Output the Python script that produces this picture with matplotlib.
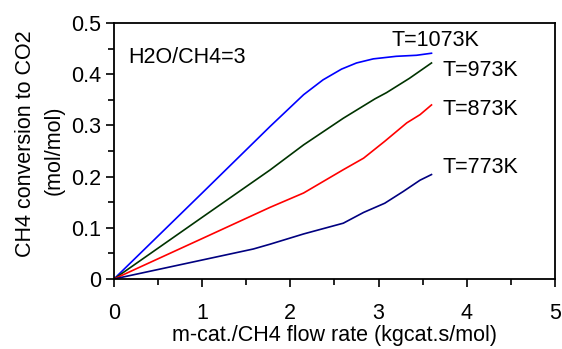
import matplotlib
matplotlib.use('Agg')
from matplotlib import pyplot as plt
from matplotlib.ticker import MultipleLocator

plt.rcParams['font.family'] = ['Liberation Sans', 'DejaVu Sans']

# m-cat./CH4 flow rate (kgcat.s/mol) vs CH4 conversion to CO2 (mol/mol)
x_1073 = [0.0, 1.0, 1.77, 2.15, 2.37, 2.58, 2.75, 2.94, 3.2, 3.43, 3.6]
y_1073 = [0.0, 0.168, 0.298, 0.36, 0.389, 0.41, 0.422, 0.43, 0.435, 0.437, 0.441]

x_973 = [0.0, 1.0, 1.77, 2.15, 2.6, 2.96, 3.09, 3.35, 3.6]
y_973 = [0.0, 0.1205, 0.213, 0.262, 0.314, 0.352, 0.364, 0.392, 0.422]

x_873 = [0.0, 1.0, 1.77, 2.15, 2.6, 2.83, 3.07, 3.32, 3.47, 3.6]
y_873 = [0.0, 0.079, 0.14, 0.168, 0.2135, 0.236, 0.269, 0.305, 0.321, 0.34]

x_773 = [0.0, 1.58, 1.77, 2.15, 2.6, 2.83, 3.07, 3.28, 3.47, 3.6]
y_773 = [0.0, 0.0586, 0.068, 0.088, 0.109, 0.13, 0.148, 0.171, 0.193, 0.204]

series = [
    (x_1073, y_1073, '#0000ff', 'T=1073K', (3.15, 0.465)),
    (x_973, y_973, '#003300', 'T=973K', (3.73, 0.408)),
    (x_873, y_873, '#ff0000', 'T=873K', (3.73, 0.332)),
    (x_773, y_773, '#000080', 'T=773K', (3.73, 0.218)),
]

fs = 15.5

fig = plt.figure(figsize=(5.62, 3.49), dpi=100)
ax = fig.add_axes([0.2028, 0.2006, 0.7847, 0.7334])

for xs, ys, c, label, pos in series:
    ax.plot(xs, ys, color=c, linewidth=1.2)
    ax.text(pos[0], pos[1], label, fontsize=fs, va='center', ha='left')

ax.text(0.16, 0.433, 'H2O/CH4=3', fontsize=fs, va='center', ha='left')

ax.set_xlim(0, 5)
ax.set_ylim(0, 0.5)
ax.xaxis.set_major_locator(MultipleLocator(1))
ax.xaxis.set_minor_locator(MultipleLocator(0.5))
ax.yaxis.set_minor_locator(MultipleLocator(0.05))
ax.set_yticks([0, 0.1, 0.2, 0.3, 0.4, 0.5])
ax.set_yticklabels(['0', '0.1', '0.2', '0.3', '0.4', '0.5'])
ax.tick_params(which='major', direction='out', length=6, width=1.2,
               labelsize=fs, pad=3)
ax.tick_params(which='minor', direction='out', length=4, width=1.2)
ax.tick_params(axis='x', which='major', pad=11)
for sp in ax.spines.values():
    sp.set_linewidth(1.3)

ax.set_xlabel('m-cat./CH4 flow rate (kgcat.s/mol)', fontsize=fs, labelpad=1)
fig.text(0.046, 0.587, 'CH4 conversion to CO2', rotation=90, fontsize=fs,
         ha='center', va='center')
fig.text(0.096, 0.57, '(mol/mol)', rotation=90, fontsize=fs,
         ha='center', va='center')

fig.savefig('out.png', dpi=100)
